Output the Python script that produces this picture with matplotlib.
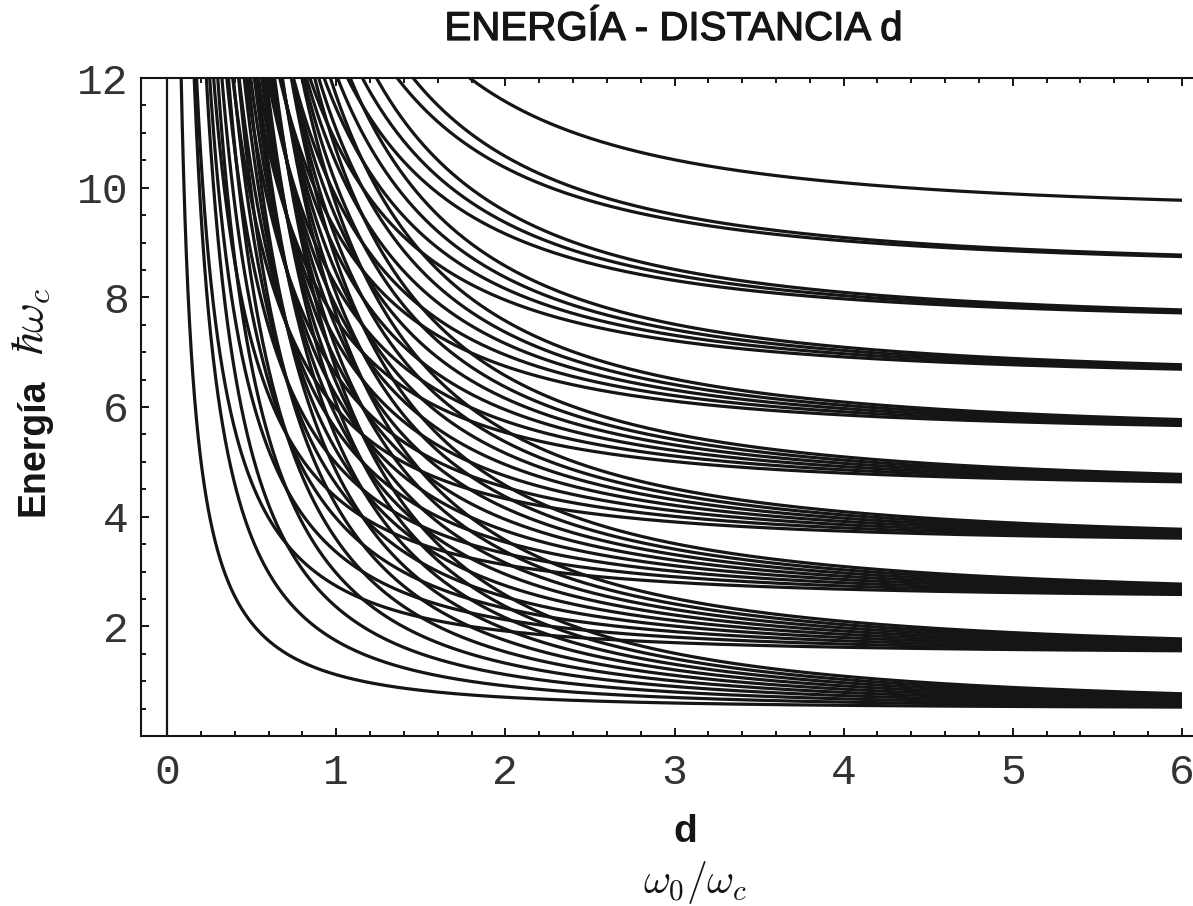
import numpy as np
import matplotlib.pyplot as plt
import matplotlib.patheffects as pe
from matplotlib.ticker import MultipleLocator

plt.rcParams['mathtext.fontset'] = 'cm'

# quantum numbers (n, m) of the Fock-Darwin states drawn: shells 2n+|m| <= 9
n_vals = [0,
          0, 0,
          0, 0, 1,
          0, 0, 1, 1,
          0, 0, 1, 1, 2,
          0, 0, 1, 1, 2, 2,
          0, 0, 1, 1, 2, 2, 3,
          0, 0, 1, 1, 2, 2, 3, 3,
          0, 0, 1, 1, 2, 2, 3, 3, 4,
          0, 0, 1, 1, 2, 2, 3, 3, 4, 4]
m_vals = [0,
          1, -1,
          2, -2, 0,
          3, -3, 1, -1,
          4, -4, 2, -2, 0,
          5, -5, 3, -3, 1, -1,
          6, -6, 4, -4, 2, -2, 0,
          7, -7, 5, -5, 3, -3, 1, -1,
          8, -8, 6, -6, 4, -4, 2, -2, 0,
          9, -9, 7, -7, 5, -5, 3, -3, 1, -1]

x_ticks = [0, 1, 2, 3, 4, 5, 6]
y_ticks = [2, 4, 6, 8, 10, 12]

d = np.unique(np.concatenate([np.geomspace(0.02, 1, 600), np.linspace(1, 6, 600)]))

W, H = 1193, 906
fig = plt.figure(figsize=(W / 100, H / 100), dpi=100)
ax = fig.add_axes([141 / W, 170 / H, 1055 / W, 658 / H])

ink = '#151515'
for n, m in zip(n_vals, m_vals):
    E = (2 * n + abs(m) + 1) * np.sqrt(0.25 + 1 / d**2) - m / 2
    ax.plot(d, E, color=ink, lw=2.3, solid_capstyle='butt')

ax.axvline(0, color=ink, lw=1.6)

ax.set_xlim(-0.154, 6.083)
ax.set_ylim(0, 12)
ax.set_xticks(x_ticks)
ax.set_yticks(y_ticks)
ax.xaxis.set_minor_locator(MultipleLocator(0.2))
ax.yaxis.set_minor_locator(MultipleLocator(0.5))
ax.tick_params(which='both', direction='in', top=True, right=False, width=1.4, color=ink)
ax.tick_params(which='major', length=5.5, labelsize=31, pad=9)
ax.tick_params(which='minor', length=3.5)
ax.tick_params(axis='x', which='major', pad=12)
for lab in ax.get_xticklabels() + ax.get_yticklabels():
    lab.set_fontfamily('Liberation Mono')
    lab.set_color('#333333')
for s in ax.spines.values():
    s.set_linewidth(1.5)
    s.set_color(ink)

fig.text(673 / W, 1 - 40 / H, 'ENERGÍA - DISTANCIA d', ha='center', va='baseline',
         fontsize=29, family='Liberation Sans', color=ink,
         path_effects=[pe.withStroke(linewidth=0.9, foreground=ink)])

fig.text(685 / W, 1 - 842 / H, 'd', ha='center', va='baseline',
         fontsize=28, fontweight='bold', family='Liberation Sans', color=ink)
fig.text(695 / W, 1 - 893 / H, r'$\omega_0/\omega_c$', ha='center', va='baseline',
         fontsize=30, color=ink)

fig.text(33 / W, 1 - 447 / H, 'Energía', rotation=90, ha='center', va='center',
         fontsize=27, fontweight='bold', family='Liberation Sans', color=ink)
fig.text(31 / W, 1 - 321 / H, r'$\hbar\omega_c$', rotation=90, ha='center', va='center',
         fontsize=33, color=ink)

fig.savefig('out.png', dpi=100)
